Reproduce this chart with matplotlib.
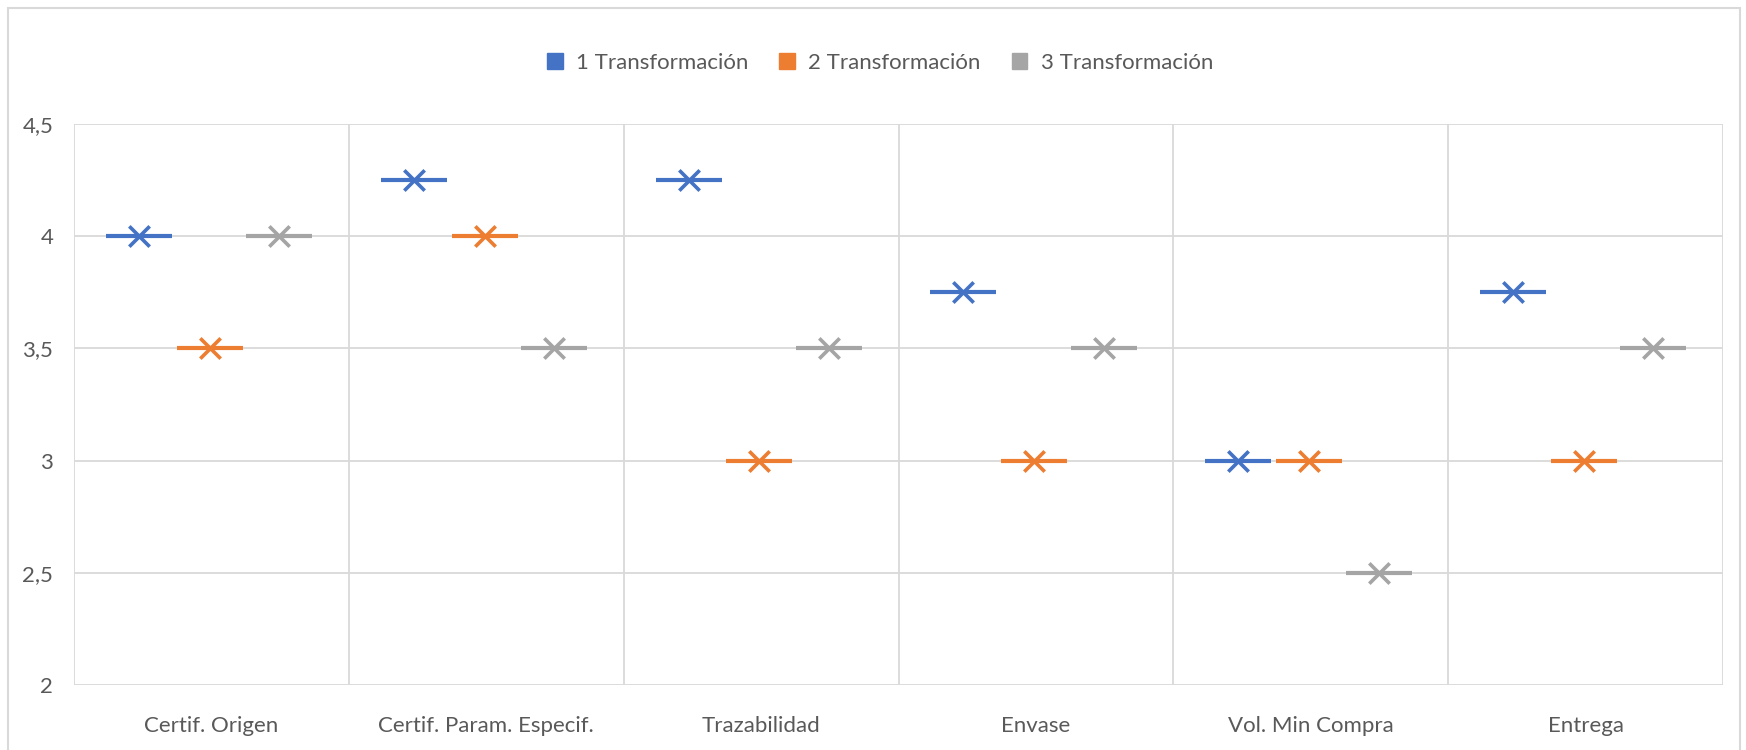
import numpy as np
import matplotlib
matplotlib.use("Agg")
import matplotlib.pyplot as plt
from matplotlib.patches import Patch, Rectangle

categories = ["Certif. Origen", "Certif. Param. Especif.", "Trazabilidad",
              "Envase", "Vol. Min Compra", "Entrega"]
series_names = ["1 Transformación", "2 Transformación", "3 Transformación"]
trans1 = [4.0, 4.25, 4.25, 3.75, 3.0, 3.75]
trans2 = [3.5, 4.0, 3.0, 3.0, 3.0, 3.0]
trans3 = [4.0, 3.5, 3.5, 3.5, 2.5, 3.5]
y_ticks = [2, 2.5, 3, 3.5, 4, 4.5]
y_labels = ["2", "2,5", "3", "3,5", "4", "4,5"]

colors = ["#4472C4", "#ED7D31", "#A5A5A5"]
text_color = "#595959"
grid_color = "#D9D9D9"

plt.rcParams['font.family'] = ['Lato', 'DejaVu Sans']

fig = plt.figure(figsize=(17.46, 7.5), dpi=100)
ax = fig.add_axes([74/1746, 1 - 685/750, (1723 - 74)/1746, (685 - 124)/750])

n = len(categories)
centers = np.arange(n) + 0.5
offsets = [-0.264, -0.006, 0.247]
half_w = 0.12

for vals, off, c in zip([trans1, trans2, trans3], offsets, colors):
    x = centers + off
    ax.hlines(vals, x - half_w, x + half_w, colors=c, linewidth=3, zorder=3)
    ax.scatter(x, vals, marker="x", s=215, color=c, linewidths=2.6, zorder=4)

# gridlines
for yv in y_ticks:
    ax.axhline(yv, color=grid_color, linewidth=1.3, zorder=1)
for xv in range(n + 1):
    ax.axvline(xv, color=grid_color, linewidth=1.3, zorder=1)

ax.set_xlim(0, n)
ax.set_ylim(2, 4.5)
ax.set_yticks(y_ticks)
ax.set_yticklabels(y_labels)
ax.set_xticks(centers)
ax.set_xticklabels(categories)
ax.tick_params(axis="both", length=0, colors=text_color, labelsize=16)
ax.tick_params(axis="x", pad=22)
ax.tick_params(axis="y", pad=15)
for s in ax.spines.values():
    s.set_visible(False)

handles = [Patch(facecolor=c, edgecolor=c) for c in colors]
fig.legend(handles, series_names, loc="center", bbox_to_anchor=(0.504, 1 - 63/750),
           ncol=3, frameon=False, fontsize=16, labelcolor=text_color,
           handlelength=0.7, handleheight=0.7, handletextpad=0.6, columnspacing=1.4)

# outer chart frame
fig.patches.append(Rectangle((8/1746, -0.02), 1 - 14/1746, 1 - 8/750 + 0.02,
                             transform=fig.transFigure, fill=False,
                             edgecolor=grid_color, linewidth=1.5))

fig.savefig("out.png", dpi=100)
